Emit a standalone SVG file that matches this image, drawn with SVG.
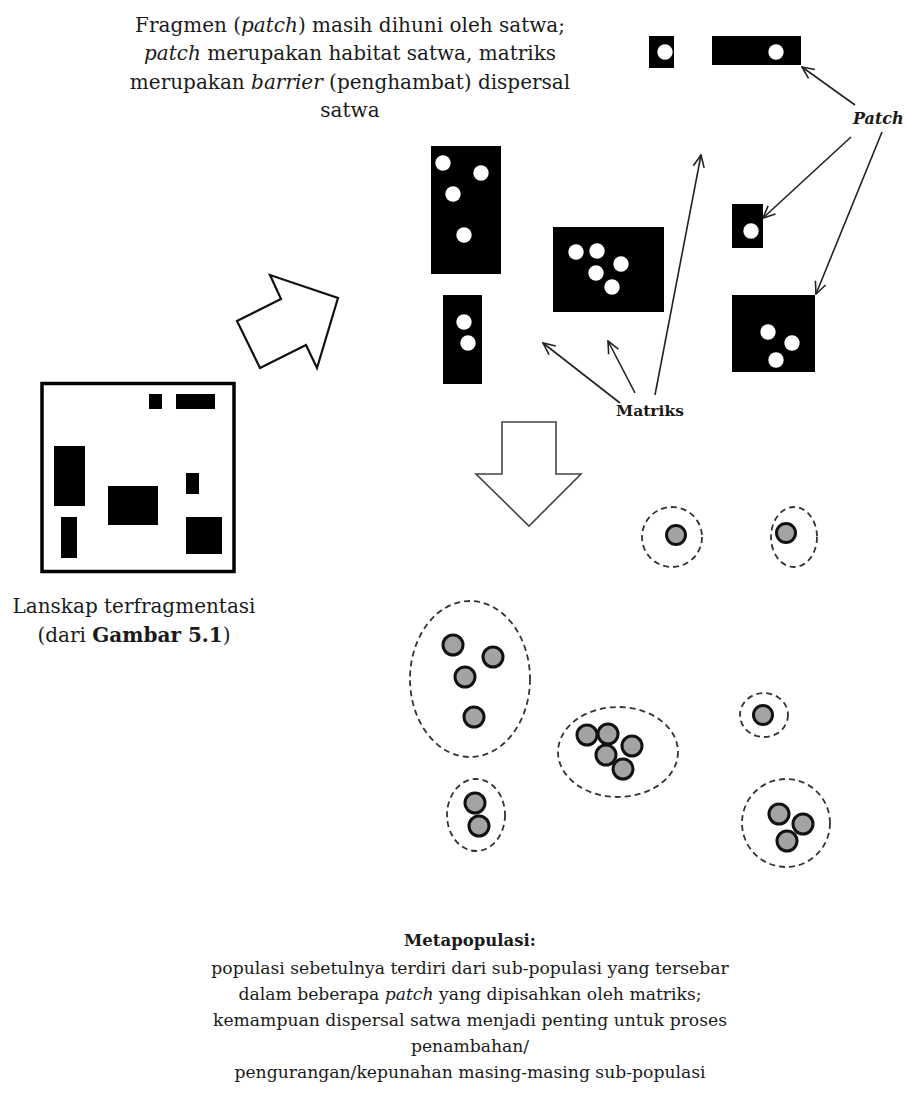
<svg xmlns="http://www.w3.org/2000/svg" width="907" height="1093" viewBox="0 0 907 1093">
<style>
.t{font-family:"DejaVu Serif","Liberation Serif",serif;fill:#1a1a1a}
.top{font-size:20px}
.bot{font-size:17.2px}
.lab{font-size:20px}
.p{fill:#000}
.w{fill:#fff}
.sub{fill:#a3a3a3;stroke:#111;stroke-width:3}
.dash{fill:none;stroke:#333;stroke-width:1.8;stroke-dasharray:6 4}
.ar{fill:none;stroke:#222;stroke-width:1.6;marker-end:url(#ah)}
</style>
<defs>
<marker id="ah" viewBox="0 0 14 14" refX="13" refY="7" markerWidth="14" markerHeight="14" orient="auto" markerUnits="userSpaceOnUse">
<path d="M1,1.5 L13,7 L1,12.5" fill="none" stroke="#222" stroke-width="1.6"/>
</marker>
</defs>
<rect width="907" height="1093" fill="#fff"/>

<g id="caption-top" class="t top" text-anchor="middle">
<text x="350" y="32">Fragmen (<tspan font-style="italic">patch</tspan>) masih dihuni oleh satwa;</text>
<text x="350" y="60"><tspan font-style="italic">patch</tspan> merupakan habitat satwa, matriks</text>
<text x="350" y="89">merupakan <tspan font-style="italic">barrier</tspan> (penghambat) dispersal</text>
<text x="350" y="117">satwa</text>
</g>

<g id="landscape">
<rect x="42" y="383.5" width="192" height="188" fill="none" stroke="#000" stroke-width="3.5"/>
<rect class="p" x="149" y="394" width="13" height="15"/>
<rect class="p" x="176" y="394" width="39" height="15"/>
<rect class="p" x="54" y="446" width="31" height="60"/>
<rect class="p" x="61" y="517" width="16" height="41"/>
<rect class="p" x="108" y="486" width="50" height="39"/>
<rect class="p" x="186" y="473" width="13" height="21"/>
<rect class="p" x="186" y="517" width="36" height="37"/>
</g>

<g id="landscape-label" class="t lab" text-anchor="middle">
<text x="134" y="613">Lanskap terfragmentasi</text>
<text x="134" y="642">(dari <tspan font-weight="bold">Gambar 5.1</tspan>)</text>
</g>

<g id="arrow-upright">
<polygon points="270,275 281,299 237,321 260,368 306,345 317,368 338,298" fill="#fff" stroke="#111" stroke-width="2.2" stroke-linejoin="miter"/>
</g>

<g id="patches">
<rect class="p" x="431" y="146" width="70" height="128"/>
<circle class="w" cx="443" cy="163" r="7.7"/>
<circle class="w" cx="481" cy="173" r="7.7"/>
<circle class="w" cx="453" cy="194" r="7.7"/>
<circle class="w" cx="464" cy="235" r="7.7"/>
<rect class="p" x="443" y="295" width="39" height="89"/>
<circle class="w" cx="464" cy="322" r="7.7"/>
<circle class="w" cx="468" cy="343" r="7.7"/>
<rect class="p" x="553" y="227" width="111" height="85"/>
<circle class="w" cx="576" cy="252" r="7.7"/>
<circle class="w" cx="597" cy="251" r="7.7"/>
<circle class="w" cx="621" cy="264" r="7.7"/>
<circle class="w" cx="596" cy="273" r="7.7"/>
<circle class="w" cx="612" cy="287" r="7.7"/>
<rect class="p" x="649" y="36" width="25" height="32"/>
<circle class="w" cx="665" cy="52" r="7.7"/>
<rect class="p" x="712" y="36" width="89" height="29"/>
<circle class="w" cx="776" cy="52" r="7.7"/>
<rect class="p" x="732" y="204" width="31" height="44"/>
<circle class="w" cx="751" cy="231" r="7.7"/>
<rect class="p" x="732" y="295" width="83" height="77"/>
<circle class="w" cx="768" cy="332" r="7.7"/>
<circle class="w" cx="792" cy="343" r="7.7"/>
<circle class="w" cx="776" cy="360" r="7.7"/>
</g>

<g id="label-patch" class="t">
<text x="853" y="124" font-size="16" font-weight="bold" font-style="italic">Patch</text>
</g>
<g id="label-matriks" class="t">
<text x="616" y="416" font-size="15.5" font-weight="bold">Matriks</text>
</g>

<g id="connectors">
<line class="ar" x1="855" y1="105" x2="802" y2="67"/>
<line class="ar" x1="851" y1="137" x2="763" y2="218"/>
<line class="ar" x1="882" y1="132" x2="816" y2="294"/>
<line class="ar" x1="620" y1="403" x2="543" y2="343"/>
<line class="ar" x1="635" y1="393" x2="608" y2="341"/>
<line class="ar" x1="655" y1="395" x2="701" y2="155"/>
</g>

<g id="arrow-down">
<polygon points="502,422 556,422 556,474 581,474 529,526 476,474 502,474" fill="#fff" stroke="#444" stroke-width="1.6"/>
</g>

<g id="subpop-1">
<ellipse class="dash" cx="672" cy="537" rx="30" ry="30"/>
<circle class="sub" cx="676" cy="535" r="9.5"/>
</g>
<g id="subpop-2">
<ellipse class="dash" cx="794" cy="537" rx="23" ry="30"/>
<circle class="sub" cx="786" cy="533" r="9.5"/>
</g>
<g id="subpop-3">
<ellipse class="dash" cx="470" cy="679" rx="60" ry="78"/>
<circle class="sub" cx="453" cy="645" r="10"/>
<circle class="sub" cx="493" cy="657" r="10"/>
<circle class="sub" cx="465" cy="677" r="10"/>
<circle class="sub" cx="474" cy="717" r="10"/>
</g>
<g id="subpop-4">
<ellipse class="dash" cx="476" cy="815" rx="29" ry="36"/>
<circle class="sub" cx="475" cy="803" r="10"/>
<circle class="sub" cx="479" cy="826" r="10"/>
</g>
<g id="subpop-5">
<ellipse class="dash" cx="618" cy="752" rx="60" ry="45"/>
<circle class="sub" cx="587" cy="735" r="10"/>
<circle class="sub" cx="608" cy="734" r="10"/>
<circle class="sub" cx="632" cy="746" r="10"/>
<circle class="sub" cx="606" cy="755" r="10"/>
<circle class="sub" cx="623" cy="769" r="10"/>
</g>
<g id="subpop-6">
<ellipse class="dash" cx="764" cy="715" rx="24" ry="22"/>
<circle class="sub" cx="763" cy="715" r="9.5"/>
</g>
<g id="subpop-7">
<ellipse class="dash" cx="786" cy="823" rx="44" ry="44"/>
<circle class="sub" cx="779" cy="814" r="10"/>
<circle class="sub" cx="803" cy="824" r="10"/>
<circle class="sub" cx="787" cy="841" r="10"/>
</g>

<g id="caption-bottom" class="t bot" text-anchor="middle">
<text x="470" y="946" font-weight="bold" font-size="16.5">Metapopulasi:</text>
<text x="470" y="974">populasi sebetulnya terdiri dari sub-populasi yang tersebar</text>
<text x="470" y="1000">dalam beberapa <tspan font-style="italic">patch</tspan> yang dipisahkan oleh matriks;</text>
<text x="470" y="1026">kemampuan dispersal satwa menjadi penting untuk proses</text>
<text x="470" y="1052">penambahan/</text>
<text x="470" y="1078">pengurangan/kepunahan masing-masing sub-populasi</text>
</g>
</svg>
